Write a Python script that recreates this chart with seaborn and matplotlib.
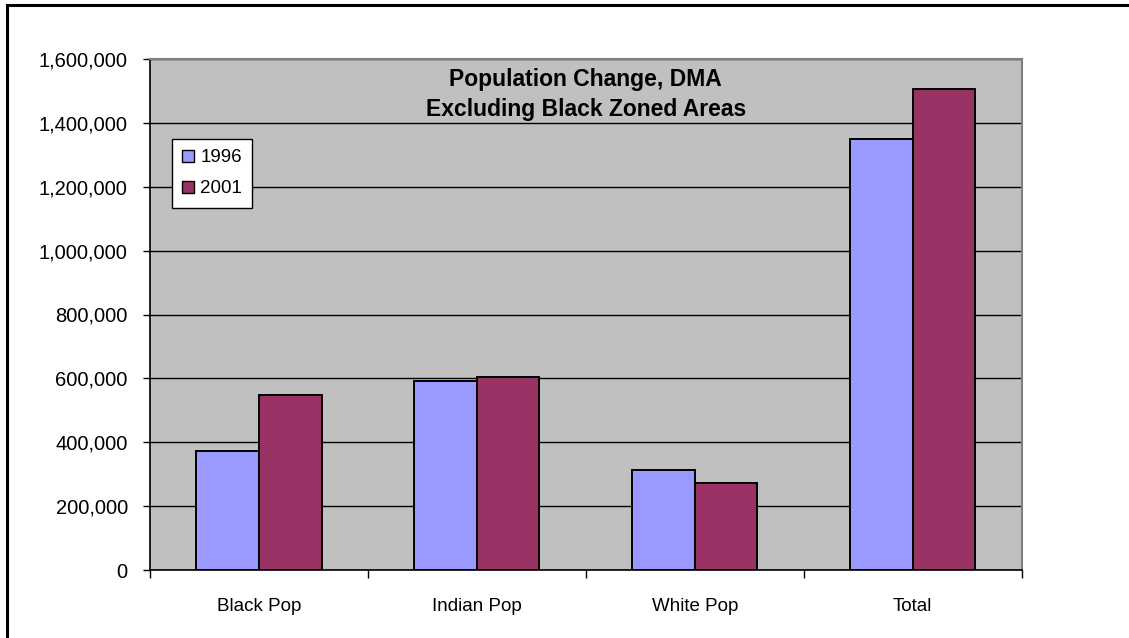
import matplotlib
matplotlib.use("Agg")
import matplotlib.pyplot as plt
from matplotlib.patches import Rectangle
from matplotlib.ticker import FuncFormatter, FixedLocator, NullFormatter
import seaborn as sns
import pandas as pd

# Population counts by group, DMA excluding black zoned areas
categories = ["Black Pop", "Indian Pop", "White Pop", "Total"]
years = ["1996", "2001"]
pop_1996 = [372000, 592000, 314000, 1349000]
pop_2001 = [547000, 604000, 272000, 1505000]

colors = {"1996": "#9999FF", "2001": "#993366"}

df = pd.DataFrame({
    "category": categories * 2,
    "year": [years[0]] * len(categories) + [years[1]] * len(categories),
    "population": pop_1996 + pop_2001,
})

sns.set_theme(style="white")
plt.rcParams["font.family"] = ["Liberation Sans", "DejaVu Sans"]
plt.rcParams["text.color"] = "black"

fig = plt.figure(figsize=(11.29, 6.38), dpi=100)
ax = fig.add_axes([150 / 1129, 68 / 638, (1021.5 - 150) / 1129, (570 - 59) / 638])
ax.set_facecolor("#C0C0C0")

sns.barplot(data=df, x="category", y="population", hue="year",
            order=categories, hue_order=years, palette=colors,
            width=0.575, gap=0, edgecolor="black", linewidth=1.4,
            saturation=1, legend=False, ax=ax, zorder=3)

ax.set_ylim(0, 1600000)
ax.set_xlim(-0.5, len(categories) - 0.5)
ax.set_yticks(range(0, 1600001, 200000))
ax.yaxis.set_major_formatter(FuncFormatter(lambda v, p: f"{int(v):,}"))
ax.grid(axis="y", color="black", linewidth=1.0, zorder=1)
ax.set_axisbelow(True)

# category labels centred, tick marks on the category boundaries
ax.xaxis.set_major_locator(FixedLocator([i - 0.5 for i in range(len(categories) + 1)]))
ax.xaxis.set_major_formatter(NullFormatter())
ax.xaxis.set_minor_locator(FixedLocator(list(range(len(categories)))))
ax.set_xticklabels(categories, minor=True)
ax.tick_params(axis="x", which="major", direction="out", length=6, width=1, color="black", bottom=True)
ax.tick_params(axis="x", which="minor", length=0, pad=20, labelsize=13.5, labelcolor="black")
ax.tick_params(axis="y", direction="out", length=5, width=1, color="black", left=True,
               pad=11, labelsize=14.5, labelcolor="black")
ax.set_xlabel("")
ax.set_ylabel("")

for side in ["left", "bottom"]:
    ax.spines[side].set_color("black")
    ax.spines[side].set_linewidth(1.2)
for side in ["top", "right"]:
    ax.spines[side].set_color("#808080")
    ax.spines[side].set_linewidth(1.5)

ax.text(0.5, 0.983, "Population Change, DMA\nExcluding Black Zoned Areas",
        transform=ax.transAxes, ha="center", va="top", fontsize=16.5,
        fontweight="bold", linespacing=1.38, color="black", zorder=5)

# legend
handles = [Rectangle((0, 0), 1, 1, facecolor=colors[y], edgecolor="black", linewidth=1) for y in years]
leg = ax.legend(handles, years, loc="upper left", bbox_to_anchor=(22 / 871.5, (570 - 139) / 511),
                frameon=True, fancybox=False, fontsize=13.5, handlelength=0.6, handleheight=0.6,
                handletextpad=0.35, labelspacing=0.75, borderpad=0.55, borderaxespad=0,
                labelcolor="black")
leg.get_frame().set_edgecolor("black")
leg.get_frame().set_facecolor("white")
leg.get_frame().set_alpha(1.0)
leg.get_frame().set_linewidth(1.0)
leg.set_zorder(6)

# outer chart frame
fig.patches.append(Rectangle((7 / 1129, -0.1), 1.2, (638 - 5) / 638 + 0.1, transform=fig.transFigure,
                             fill=False, edgecolor="black", linewidth=2.2))

fig.savefig("out.png", dpi=100, facecolor="white")
